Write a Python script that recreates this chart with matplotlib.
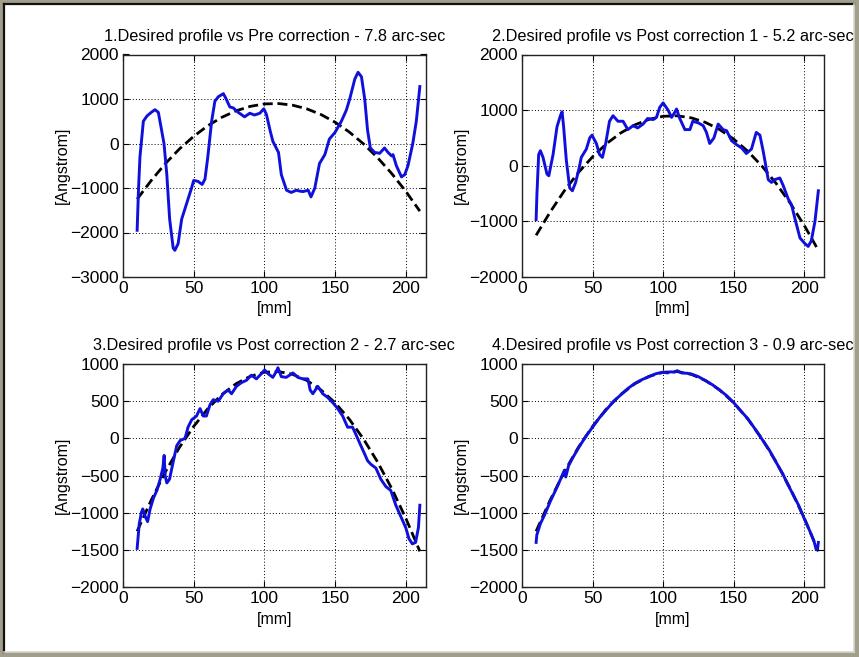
import matplotlib
matplotlib.use("Agg")
import matplotlib.pyplot as plt
from matplotlib.patches import Rectangle
from matplotlib.lines import Line2D
import numpy as np

plt.rcParams['font.family'] = ['Liberation Sans', 'DejaVu Sans']

# ---------------- data ----------------
titles = [
    "1.Desired profile vs Pre correction - 7.8 arc-sec",
    "2.Desired profile vs Post correction 1 - 5.2 arc-sec",
    "3.Desired profile vs Post correction 2 - 2.7 arc-sec",
    "4.Desired profile vs Post correction 3 - 0.9 arc-sec",
]
xlabel_text = "[mm]"
ylabel_text = "[Angstrom]"

# desired profile (dashed)
desired_x = [10, 20, 30, 40, 50, 60, 70, 80, 90, 100, 110, 120, 130, 140,
             150, 160, 170, 180, 190, 200, 210]
desired_y = [-1250, -830, -450, -120, 160, 400, 590, 735, 834, 889, 898, 861,
             779, 652, 479, 260, -5, -315, -671, -1072, -1520]

# measured profile 1 (pre correction)
m1_x = [10, 11, 12, 14.4, 17, 20, 22.6, 25, 27.3, 29, 31, 33, 35.5, 36.7, 39,
        41.5, 45, 48.5, 50, 53, 56, 58, 60, 62.7, 65, 67.4, 71, 73, 75.6, 78,
        81.5, 86, 89.7, 93, 96.8, 99.6, 101.5, 104, 106, 110, 112, 115.7, 119,
        122.7, 125, 127.4, 131, 133, 135.7, 139, 142.8, 146, 150, 154.5, 158,
        160.4, 164, 166.3, 168.7, 171, 173, 175, 178, 181.6, 185, 187.5, 190,
        191, 193.4, 197, 199.3, 201.6, 205, 207.5, 210]
m1_y = [-1950, -1000, -300, 500, 620, 700, 760, 700, 300, 0, -700, -1700,
        -2350, -2400, -2250, -1700, -1350, -1000, -830, -850, -920, -800, -300,
        500, 950, 1050, 1120, 1000, 820, 800, 700, 600, 680, 640, 680, 780,
        650, 300, 50, -200, -700, -1050, -1100, -1050, -1070, -1080, -1050,
        -1200, -1000, -450, -250, 100, 250, 500, 750, 1000, 1450, 1600, 1500,
        1000, 300, -100, -200, -220, -100, -200, -280, -250, -500, -750, -700,
        -500, 0, 500, 1280]

# measured profile 2 (post correction 1)
m2_x = [10, 10.6, 11.8, 13, 14.9, 17.7, 19, 22, 24.8, 27.2, 28.4, 29.5, 31.4,
        33.8, 35.7, 38, 40.4, 42, 45.6, 48, 49.6, 52.7, 55, 57, 59.3, 62, 64.5,
        68, 71.6, 75, 78.7, 82, 85.8, 89, 93, 95.3, 97.6, 100, 103.5, 106, 108,
        109.5, 111.8, 115.4, 119, 121, 125, 128.4, 130.7, 133, 136, 139, 142.5,
        145, 148.5, 152, 155.6, 159, 162.6, 166, 168.6, 171, 174.5, 176.8, 179,
        182.7, 185, 188.7, 191, 193.4, 197, 200.5, 202.8, 205, 207.6, 210]
m2_y = [-970, -500, 200, 270, 150, -150, -180, 200, 700, 900, 970, 700, 100,
        -400, -450, -300, -50, 150, 300, 500, 550, 400, 200, 150, 400, 800, 900,
        800, 800, 650, 720, 680, 750, 850, 830, 870, 1050, 1130, 1000, 870, 950,
        1020, 850, 650, 650, 800, 770, 720, 600, 400, 500, 750, 650, 630, 450,
        380, 320, 220, 300, 600, 550, 250, -250, -300, -250, -220, -350, -600,
        -700, -950, -1300, -1400, -1450, -1350, -1000, -450]

# measured profile 3 (post correction 2)
m3_x = [10, 11.5, 13, 14, 15.7, 17.4, 19.2, 21.6, 24, 26.3, 28.2, 29.1, 29.8,
        31, 32.9, 35.7, 38, 40.4, 43.9, 46, 48.6, 52, 54.5, 56.8, 59, 61.5,
        63.8, 67.4, 70.9, 74.4, 76.8, 80.3, 83.8, 87.3, 90.8, 94.4, 97.9, 100.2,
        102.6, 106, 108.5, 109.6, 112, 115.5, 120.2, 123.7, 127.2, 130.8, 132.4,
        134.3, 137.8, 141.3, 144.8, 148.4, 151.9, 155.4, 158.9, 162.4, 164.8,
        168.3, 170.7, 173, 175.4, 178.9, 182.4, 186, 189.4, 193, 196.5, 200,
        202.3, 204.7, 207, 209, 210]
m3_y = [-1480, -1150, -1000, -950, -1050, -1120, -950, -800, -700, -550, -400,
        -230, -500, -600, -550, -300, -100, -30, 0, 150, 250, 300, 400, 300, 300,
        450, 520, 500, 600, 650, 600, 700, 750, 780, 850, 800, 870, 920, 870,
        820, 900, 950, 830, 820, 880, 820, 800, 800, 650, 600, 700, 600, 550,
        480, 400, 300, 150, 150, 50, -100, -200, -300, -350, -400, -550, -650,
        -700, -900, -1050, -1200, -1350, -1420, -1400, -1200, -900]

# measured profile 4 (post correction 3)
m4_x = [10, 10.5, 13, 16, 20, 25, 28, 30, 31, 33, 36, 40, 45, 50, 55, 60, 65,
        70, 75, 80, 85, 90, 95, 100, 103, 105, 108, 110, 113, 117, 120, 125,
        130, 135, 140, 145, 150, 155, 160, 165, 170, 175, 180, 185, 188, 190,
        193, 196, 200, 204, 207, 208.5, 209.5, 210]
m4_y = [-1400, -1300, -1150, -1030, -850, -650, -520, -430, -520, -370, -260,
        -130, 20, 150, 280, 390, 500, 585, 670, 740, 790, 830, 870, 890, 880,
        895, 890, 910, 880, 875, 865, 830, 775, 720, 650, 575, 480, 370, 265,
        130, -10, -150, -320, -485, -610, -680, -790, -900, -1080, -1250, -1390,
        -1500, -1480, -1400]

measured = [(m1_x, m1_y), (m2_x, m2_y), (m3_x, m3_y), (m4_x, m4_y)]
ylims = [(-3000, 2000), (-2000, 2000), (-2000, 1000), (-2000, 1000)]
ysteps = [1000, 1000, 500, 500]
xticks = [0, 50, 100, 150, 200]

# ---------------- figure ----------------
W, H = 859, 657
fig = plt.figure(figsize=(W / 100, H / 100), dpi=100, facecolor='#a29e8c')

# white panel with sunken frame
fig.patches.append(Rectangle((5 / W, 5 / H), (W - 10) / W, (H - 10) / H,
                             transform=fig.transFigure, facecolor='white',
                             edgecolor='none', zorder=-10))
frame_lines = [
    ([4 / W, 4 / W], [5 / H, (H - 4) / H], '#111111', 1.6),
    ([4 / W, (W - 5) / W], [(H - 4) / H, (H - 4) / H], '#111111', 1.6),
    ([(W - 5) / W, (W - 5) / W], [5 / H, (H - 4) / H], '#d8d6cc', 1.2),
    ([4 / W, (W - 5) / W], [5 / H, 5 / H], '#d8d6cc', 1.2),
]
for xs, ys, c, w in frame_lines:
    fig.lines.append(Line2D(xs, ys, transform=fig.transFigure, color=c, lw=w,
                            zorder=-5))

# axes boxes in pixels: left, top, right, bottom
boxes = [(123, 54.5, 425.5, 277), (522, 54.5, 824, 277),
         (123, 364, 425.5, 587), (522, 364, 824, 587)]

for i, (l, t, r, b) in enumerate(boxes):
    ax = fig.add_axes([l / W, (H - b) / H, (r - l) / W, (b - t) / H])
    ax.set_zorder(1)
    ax.set_xlim(0, 214)
    lo, hi = ylims[i]
    ax.set_ylim(lo, hi)
    ax.set_xticks(xticks)
    ax.set_yticks(np.arange(lo, hi + 1, ysteps[i]))
    ax.grid(True, color='k', linestyle=(0, (1, 2.2)), linewidth=0.7)
    ax.set_axisbelow(True)
    ax.plot(desired_x, desired_y, color='k', lw=2.0, dashes=(3.6, 1.7), zorder=2)
    mx, my = measured[i]
    ax.plot(mx, my, color='#1010dc', lw=2.1, zorder=3, solid_joinstyle='round')
    ax.tick_params(direction='in', length=4, width=0.8, labelsize=12.5,
                   top=True, right=True, pad=3, colors='k')
    for s in ax.spines.values():
        s.set_linewidth(1.0)
        s.set_color('#222222')
    ax.set_title(titles[i], fontsize=11.7, pad=10)
    ax.set_xlabel(xlabel_text, fontsize=11.5)
    ax.set_ylabel(ylabel_text, fontsize=11.5)
    ax.xaxis.set_label_coords(0.5, -0.11)
    ax.yaxis.set_label_coords(-0.175, 0.5)

fig.savefig("out.png", dpi=100, facecolor=fig.get_facecolor())
